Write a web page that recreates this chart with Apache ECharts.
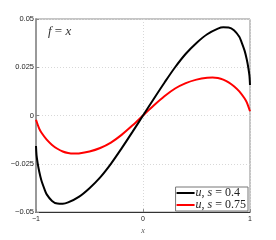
<!DOCTYPE html>
<html><head><meta charset="utf-8">
<script src="https://cdn.jsdelivr.net/npm/echarts@6/dist/echarts.min.js"></script>
<style>html,body{margin:0;padding:0;background:#fff}#c{width:276px;height:240px}</style>
</head><body><div id="c"></div>
<script>
const xBlack = [-1, -0.995, -0.985, -0.97, -0.95, -0.92, -0.9, -0.85, -0.8, -0.75, -0.7, -0.6, -0.5, -0.4, -0.3, -0.2, -0.1, 0,
  0.1, 0.2, 0.3, 0.4, 0.5, 0.6, 0.7, 0.75, 0.8, 0.85, 0.9, 0.92, 0.95, 0.97, 0.985, 0.995, 1];
const uBlack = [-0.0158, -0.0205, -0.0245, -0.0290, -0.0335, -0.0382, -0.0408, -0.0442, -0.0456, -0.0457, -0.0450, -0.0421, -0.0376, -0.0320, -0.0250, -0.0170, -0.0086, 0,
  0.0086, 0.0170, 0.0250, 0.0320, 0.0376, 0.0421, 0.0450, 0.0457, 0.0456, 0.0442, 0.0408, 0.0382, 0.0335, 0.0290, 0.0245, 0.0205, 0.0158];
const xRed = [-1, -0.97, -0.95, -0.9, -0.85, -0.8, -0.75, -0.7, -0.65, -0.6, -0.5, -0.4, -0.3, -0.2, -0.1, 0,
  0.1, 0.2, 0.3, 0.4, 0.5, 0.6, 0.65, 0.7, 0.75, 0.8, 0.85, 0.9, 0.95, 0.97, 1];
const uRed = [-0.0022, -0.0068, -0.0088, -0.0125, -0.0152, -0.0172, -0.0186, -0.0194, -0.0197, -0.0196, -0.0186, -0.0168, -0.0140, -0.0100, -0.0052, 0,
  0.0052, 0.0100, 0.0140, 0.0168, 0.0186, 0.0196, 0.0197, 0.0194, 0.0186, 0.0172, 0.0152, 0.0125, 0.0088, 0.0068, 0.0022];
const seriesNames = ['u, s = 0.4', 'u, s = 0.75'];
const yTicks = [-0.05, -0.025, 0, 0.025, 0.05];
const xTicks = [-1, 0, 1];

const chart = echarts.init(document.getElementById('c'), null, {renderer: 'canvas'});
const serif = '"Liberation Serif","DejaVu Serif",serif';
const sans = '"Liberation Sans","DejaVu Sans",sans-serif';
const fmtNum = v => String(v).replace('-', '\u2212');
chart.setOption({
  animation: false,
  grid: {left: 36, right: 26, top: 19, bottom: 27, show: true, borderColor: '#8a8a8a', borderWidth: 1},
  title: {
    text: '{i|f} = {i|x}', left: 43, top: 20,
    textStyle: {fontFamily: serif, fontSize: 13, fontWeight: 'normal', color: '#333',
      rich: {i: {fontFamily: serif, fontStyle: 'italic', fontSize: 13, color: '#333'}}}
  },
  xAxis: {
    type: 'value', min: -1, max: 1, interval: 1,
    name: 'x', nameLocation: 'middle', nameGap: 12,
    nameTextStyle: {fontFamily: serif, fontStyle: 'italic', fontSize: 8, color: '#555'},
    axisLine: {show: true, onZero: false, lineStyle: {color: '#333', width: 1}},
    axisTick: {show: true, inside: true, length: 3, lineStyle: {color: '#888'}},
    axisLabel: {fontFamily: sans, fontSize: 7, color: '#222', margin: 3,
      formatter: v => xTicks.includes(v) ? fmtNum(v) : ''},
    splitLine: {show: true, lineStyle: {color: '#d8d8d8', type: [1, 2], width: 1}}
  },
  yAxis: {
    type: 'value', min: -0.05, max: 0.05, interval: 0.025,
    axisLine: {show: true, onZero: false, lineStyle: {color: '#999', width: 2}},
    axisTick: {show: true, inside: true, length: 3, lineStyle: {color: '#888'}},
    axisLabel: {fontFamily: sans, fontSize: 7.5, color: '#222', margin: 2,
      formatter: v => yTicks.some(t => Math.abs(t - v) < 1e-9) ? fmtNum(+v.toFixed(3)) : ''},
    splitLine: {show: true, lineStyle: {color: '#d8d8d8', type: [1, 2], width: 1}}
  },
  legend: {
    data: seriesNames, orient: 'vertical', right: 28, bottom: 29,
    backgroundColor: '#fff', borderColor: '#777', borderWidth: 1, borderRadius: 0,
    padding: [0, 2, 0, 1], itemGap: 0, itemWidth: 18, itemHeight: 12,
    icon: 'path://M0,5 L18,5 L18,7 L0,7 Z',
    formatter: n => {
      const p = n.split(', s');
      return '{i|u}, {i|s}' + p[1];
    },
    textStyle: {fontFamily: serif, fontSize: 12, color: '#222', padding: [0, 0, 0, -4],
      rich: {i: {fontFamily: serif, fontStyle: 'italic', fontSize: 12, color: '#222'}}}
  },
  series: [
    {name: seriesNames[0], type: 'line', data: xBlack.map((x, i) => [x, uBlack[i]]),
      showSymbol: false, smooth: 0.3, lineStyle: {color: '#000', width: 2}, itemStyle: {color: '#000'}, z: 3},
    {name: seriesNames[1], type: 'line', data: xRed.map((x, i) => [x, uRed[i]]),
      showSymbol: false, smooth: 0.3, lineStyle: {color: '#ff0000', width: 2}, itemStyle: {color: '#ff0000'}, z: 2}
  ]
});
</script></body></html>
